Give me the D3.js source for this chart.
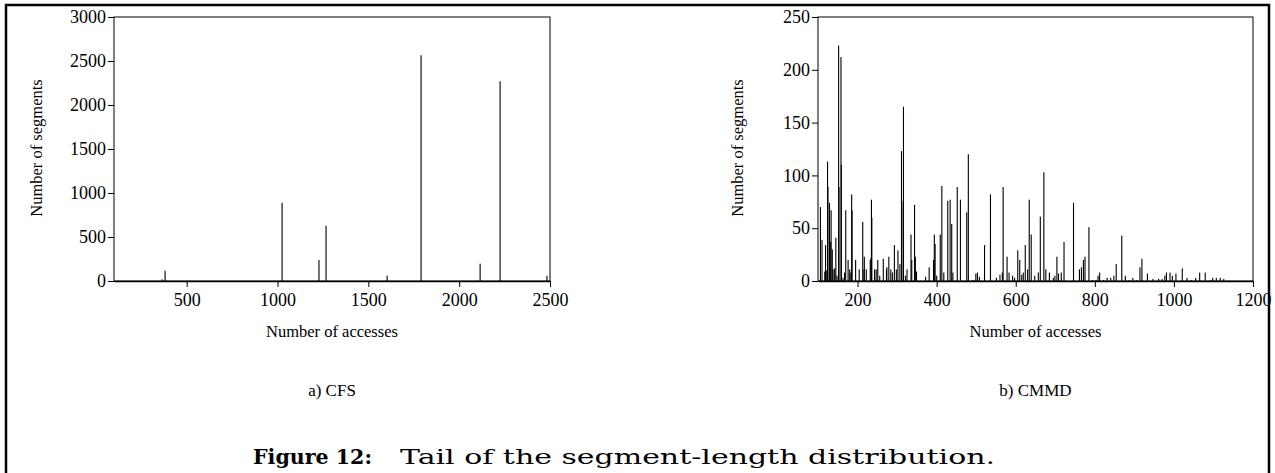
<!DOCTYPE html>
<html><head><meta charset="utf-8">
<script src="https://cdn.jsdelivr.net/npm/d3@7"></script>
<style>
html,body{margin:0;padding:0;background:#fff;}
svg{display:block;}
svg text{font-family:'Liberation Serif','Times New Roman',serif;}
svg text.cap{font-family:'DejaVu Serif',serif;}
</style></head>
<body>
<svg id="chart" width="1275" height="473"></svg>
<script>
// ---- Data ----
const cfsAccesses = [364, 381, 1025, 1228, 1267, 1603, 1790, 2115, 2225, 2483];
const cfsSegments = [19, 117, 889, 238, 628, 60, 2565, 197, 2270, 60];
const cfsXTicks = [500, 1000, 1500, 2000, 2500];
const cfsYTicks = [0, 500, 1000, 1500, 2000, 2500, 3000];

const cmmdAccesses = [106,110,117,119,122,124,125,129,132,133,136,138,142,145,148,152,153,158,159,163,167,170,176,180,183,185,186,195,204,213,216,217,222,232,234,235,236,243,247,251,256,265,273,274,279,284,288,293,298,302,307,311,312,316,321,325,335,337,344,346,349,372,381,392,394,396,400,409,413,418,428,434,438,441,452,460,476,480,492,499,503,508,521,536,551,560,566,568,578,583,592,597,605,610,615,619,624,630,634,639,648,657,662,671,676,685,695,699,704,708,715,722,746,761,766,771,775,785,794,803,808,812,822,831,840,848,854,868,877,887,896,905,914,919,933,947,961,970,977,981,990,996,1005,1021,1033,1044,1055,1065,1079,1091,1098,1107,1117,1126];
const cmmdSegments = [70,39,9,34,10,113,89,74,37,67,30,11,12,41,5,223,89,212,110,3,8,67,20,11,8,82,67,20,11,56,11,23,11,20,22,77,60,11,11,20,5,21,11,13,23,11,8,34,11,29,16,123,76,165,5,11,44,20,72,23,9,4,13,20,44,35,5,44,90,8,76,77,54,8,89,77,65,120,1,7,8,4,34,82,3,6,8,89,23,8,5,3,29,20,6,8,34,11,77,44,5,8,61,103,11,8,3,5,23,7,8,37,74,11,13,20,23,51,1,1,5,8,1,3,3,5,16,43,5,1,3,1,13,21,7,2,2,2,5,8,8,5,7,12,3,1,3,8,8,1,3,3,3,2];
const cmmdXTicks = [200, 400, 600, 800, 1000, 1200];
const cmmdYTicks = [0, 50, 100, 150, 200, 250];

const yLabel = "Number of segments";
const xLabel = "Number of accesses";
const subCaptions = ["a) CFS", "b) CMMD"];
const figLabel = "Figure 12:";
const figText = "Tail of the segment-length distribution.";

// ---- Drawing ----
const svg = d3.select("#chart");

// outer frame (bottom open)
svg.append("path")
  .attr("d", "M6,520 L6,5 L1269,5 L1269,520")
  .attr("fill", "none").attr("stroke", "#000").attr("stroke-width", 2.5);

function panel(opts) {
  const {x0, x1, y0, y1, xDomain, yDomain, xTicks, yTicks, xs, ys, caption, labelX} = opts;
  const x = d3.scaleLinear().domain(xDomain).range([x0, x1]);
  const y = d3.scaleLinear().domain(yDomain).range([y1, y0]);
  const g = svg.append("g");

  // bars
  g.selectAll("rect.bar").data(xs.map((v, i) => [v, ys[i]]))
    .enter().append("rect").attr("class", "bar")
    .attr("x", d => x(d[0]) - 0.5)
    .attr("width", 1.1)
    .attr("y", d => y(d[1]))
    .attr("height", d => y(0) - y(d[1]))
    .attr("fill", "#000");

  // frame
  g.append("rect").attr("x", x0).attr("y", y0)
    .attr("width", x1 - x0).attr("height", y1 - y0)
    .attr("fill", "none").attr("stroke", "#000").attr("stroke-width", 1);

  const xAxis = g.append("g").attr("transform", `translate(0,${y1})`)
    .call(d3.axisBottom(x).tickValues(xTicks).tickSize(6).tickSizeOuter(0).tickFormat(d3.format("d")));
  xAxis.attr("font-family", null).attr("font-size", 18);
  xAxis.select(".domain").attr("stroke-width", 1.6);
  xAxis.selectAll("text").attr("fill", "#000").attr("dy", "0.9em");

  const yAxis = g.append("g").attr("transform", `translate(${x0},0)`)
    .call(d3.axisLeft(y).tickValues(yTicks).tickSize(6).tickSizeOuter(0).tickFormat(d3.format("d")));
  yAxis.attr("font-family", null).attr("font-size", 18);
  yAxis.select(".domain").remove();
  yAxis.selectAll("text").attr("fill", "#000").attr("dx", "1px");

  // axis titles
  g.append("text").attr("x", (x0 + x1) / 2).attr("y", 337)
    .attr("text-anchor", "middle").attr("font-size", 16.5)
    .text(xLabel);
  g.append("text").attr("transform", `translate(${labelX},${(y0 + y1) / 2 - 1}) rotate(-90)`)
    .attr("text-anchor", "middle").attr("font-size", 16.5)
    .text(yLabel);
  g.append("text").attr("x", (x0 + x1) / 2).attr("y", 396)
    .attr("text-anchor", "middle").attr("font-size", 17)
    .text(caption);
}

panel({x0: 114, x1: 550, y0: 17, y1: 281, xDomain: [100, 2500], yDomain: [0, 3000],
  xTicks: cfsXTicks, yTicks: cfsYTicks, xs: cfsAccesses, ys: cfsSegments,
  caption: subCaptions[0], labelX: 42});
panel({x0: 818, x1: 1253, y0: 17, y1: 281, xDomain: [100, 1200], yDomain: [0, 250],
  xTicks: cmmdXTicks, yTicks: cmmdYTicks, xs: cmmdAccesses, ys: cmmdSegments,
  caption: subCaptions[1], labelX: 743});

// figure caption
svg.append("text").attr("class", "cap").attr("x", 253).attr("y", 464)
  .attr("font-weight", "bold").attr("font-size", 21)
  .attr("textLength", 119).attr("lengthAdjust", "spacingAndGlyphs")
  .text(figLabel);
svg.append("text").attr("class", "cap").attr("x", 400).attr("y", 464)
  .attr("font-size", 21)
  .attr("textLength", 595).attr("lengthAdjust", "spacingAndGlyphs")
  .text(figText);
</script>
</body></html>
